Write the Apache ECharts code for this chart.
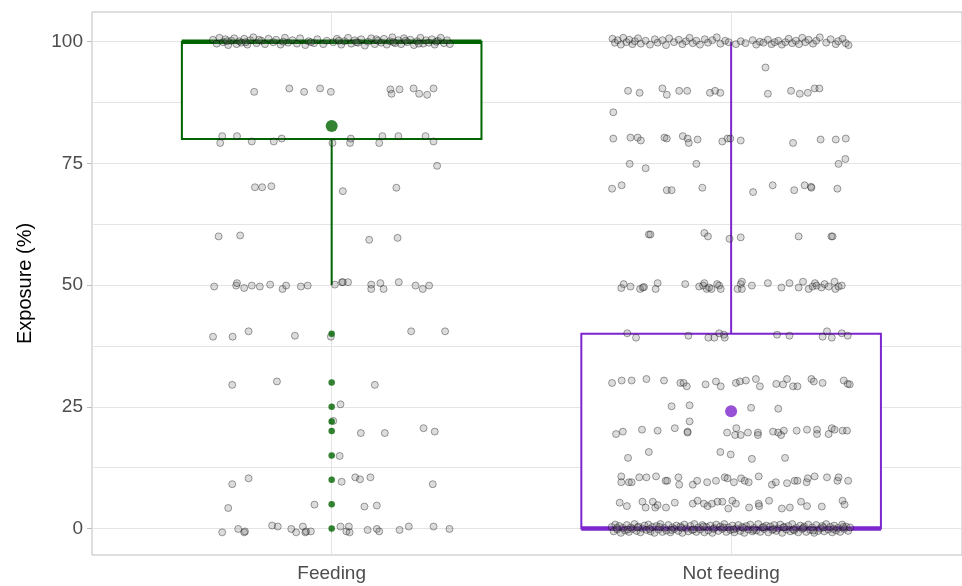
<!DOCTYPE html>
<html>
<head>
<meta charset="utf-8">
<script src="https://cdn.jsdelivr.net/npm/echarts@6/dist/echarts.min.js"></script>
<style>html,body{margin:0;padding:0;background:#fff}#chart{width:962px;height:586px}</style>
</head>
<body>
<div id="chart"></div>
<script>
// ---- data ----
const categories = ['Feeding', 'Not feeding'];
const yTicks = [0, 25, 50, 75, 100];
const yMinorTicks = [12.5, 37.5, 62.5, 87.5];
// [whisker low, Q1, median, Q3, whisker high]
const feedingBox = [50, 80, 100, 100, 100];
const notFeedingBox = [0, 0, 0, 40, 100];
const means = [82.7, 24.1];
const feedingOutliers = [40, 30, 25, 22, 20, 15, 10, 5, 0];

// jittered observations: [horizontal jitter (category units), value]
const feedingJitter = [
 [-0.297,100.4],[-0.288,99.6],[-0.281,100.8],[-0.272,99.9],[-0.266,100.5],[-0.259,99.3],[-0.251,100.2],[-0.244,100.7],[-0.238,99.5],[-0.231,100.1],[-0.226,99.8],[-0.219,100.6],[-0.211,99.4],[-0.204,100.3],[-0.196,100.9],[-0.188,99.7],[-0.176,100.2],[-0.167,99.5],[-0.158,100.6],[-0.146,99.9],[-0.139,100.4],[-0.128,99.4],[-0.117,100.8],[-0.109,99.8],[-0.098,100.3],[-0.087,99.6],[-0.079,100.7],[-0.066,99.3],[-0.058,100.1],[-0.044,99.7],[-0.036,100.5],[-0.021,99.5],[-0.012,100.2],[0.004,99.9],[0.013,100.6],[0.024,99.4],[0.032,100.1],[0.041,100.8],[0.049,99.6],[0.058,100.3],[0.066,99.8],[0.074,100.5],[0.083,99.2],[0.091,100.0],[0.099,100.7],[0.108,99.5],[0.116,100.2],[0.124,99.8],[0.131,100.6],[0.138,99.4],[0.146,100.1],[0.152,100.9],[0.159,99.7],[0.167,100.3],[0.174,99.5],[0.181,100.7],[0.189,99.9],[0.197,100.4],[0.206,99.3],[0.214,100.1],[0.222,100.8],[0.229,99.6],[0.236,100.3],[0.243,99.8],[0.251,100.5],[0.258,99.4],[0.266,100.2],[0.273,100.8],[0.281,99.7],[0.289,100.3],[0.296,99.5],
 [-0.262,100.1],[-0.215,99.9],[-0.182,100.4],[-0.121,100.0],[-0.052,99.9],[0.018,100.2],[0.062,99.9],[0.112,100.5],[0.155,99.9],[0.185,100.2],[0.218,99.6],[0.262,100.0],
 [-0.194,89.7],[-0.106,90.4],[-0.069,89.7],[-0.029,90.4],[-0.002,89.7],[0.147,90.2],[0.150,89.3],[0.170,90.2],[0.205,90.4],[0.219,89.3],[0.239,89.1],[0.255,90.4],
 [-0.279,79.2],[-0.274,80.6],[-0.237,80.6],[-0.200,79.5],[-0.145,79.5],[-0.125,80.1],[0.002,79.2],[0.046,79.2],[0.048,80.1],[0.119,79.2],[0.127,80.6],[0.167,80.6],[0.235,80.6],[0.255,79.5],
 [0.264,74.5],
 [-0.192,70.1],[-0.174,70.1],[-0.151,70.3],[0.028,69.3],[0.162,70.0],
 [-0.283,60.0],[-0.229,60.2],[0.094,59.3],[0.165,59.7],
 [-0.294,49.7],[-0.239,49.9],[-0.237,50.4],[-0.219,49.4],[-0.200,49.9],[-0.180,49.7],[-0.154,50.1],[-0.123,49.2],[-0.114,49.9],[-0.077,49.7],[-0.060,49.9],[0.008,50.1],[0.026,50.6],[0.028,50.6],[0.041,50.6],[0.099,50.1],[0.099,49.2],[0.122,50.4],[0.130,49.2],[0.168,50.6],[0.210,49.9],[0.228,49.2],[0.244,49.9],
 [-0.297,39.4],[-0.248,39.4],[-0.208,40.5],[-0.092,39.6],[-0.002,39.4],[0.199,40.5],[0.284,40.5],
 [-0.249,29.5],[-0.137,30.2],[0.108,29.5],
 [0.022,25.5],[0.004,22.1],
 [0.073,19.6],[0.133,19.6],[0.230,20.6],[0.258,19.9],
 [0.020,14.9],
 [-0.249,9.1],[-0.208,10.3],[0.025,9.6],[0.059,10.5],[0.071,10.1],[0.097,10.5],[0.253,9.1],
 [-0.259,4.2],[-0.043,4.9],[0.082,4.5],[0.113,4.7],
 [-0.274,-0.8],[-0.234,-0.1],[-0.219,-0.8],[-0.217,-0.6],[-0.149,0.6],[-0.135,0.4],[-0.101,-0.1],[-0.089,-0.8],[-0.072,0.4],[-0.066,-0.8],[-0.064,-0.6],[-0.052,-0.6],[0.022,0.4],[0.037,-0.6],[0.043,0.4],[0.045,-0.8],[0.090,-0.3],[0.113,-0.1],[0.119,-0.6],[0.170,-0.3],[0.193,0.4],[0.255,0.4],[0.295,-0.1]
];

const notFeedingJitter = [
 [-0.297,100.6],[-0.291,99.8],[-0.284,100.3],[-0.276,99.4],[-0.270,100.8],[-0.262,99.9],[-0.255,100.4],[-0.247,99.5],[-0.241,100.1],[-0.233,100.7],[-0.226,99.6],[-0.214,100.2],[-0.203,99.4],[-0.191,100.5],[-0.184,99.8],[-0.172,100.3],[-0.163,99.3],[-0.155,100.7],[-0.143,99.9],[-0.131,100.4],[-0.122,99.5],[-0.113,100.1],[-0.104,100.8],[-0.096,99.7],[-0.087,100.2],[-0.078,99.4],[-0.066,100.5],[-0.058,99.8],[-0.047,100.3],[-0.036,100.9],[-0.027,99.6],[-0.015,100.2],[-0.006,99.9],[0.012,99.5],[0.024,100.1],[0.036,99.7],[0.054,100.3],[0.063,99.4],[0.072,100.0],[0.081,99.8],[0.092,100.4],[0.101,99.5],[0.109,99.9],[0.118,100.2],[0.127,99.4],[0.136,99.9],[0.144,100.6],[0.153,99.7],[0.162,100.2],[0.170,99.5],[0.178,100.8],[0.186,99.9],[0.194,100.4],[0.205,99.6],[0.213,100.2],[0.222,100.9],[0.238,99.8],[0.249,100.5],[0.262,99.5],[0.268,100.1],[0.279,100.6],[0.287,99.7],[0.294,99.3],
 [0.086,94.7],[-0.295,85.5],
 [-0.258,89.9],[-0.229,89.5],[-0.172,90.4],[-0.161,89.1],[-0.130,89.9],[-0.110,89.9],[-0.053,89.5],[-0.040,89.9],[-0.027,89.5],[0.092,89.3],[0.150,89.9],[0.172,89.3],[0.192,89.5],[0.209,90.4],[0.221,90.4],
 [-0.295,80.1],[-0.252,80.3],[-0.234,80.3],[-0.226,79.7],[-0.167,80.3],[-0.161,80.1],[-0.121,80.6],[-0.109,80.1],[-0.106,79.2],[-0.084,79.9],[-0.022,79.5],[-0.009,80.1],[-0.002,80.1],[0.024,79.7],[0.155,79.2],[0.224,79.9],[0.262,79.9],[0.287,80.1],
 [0.286,75.9],[-0.254,74.9],[-0.214,74.0],[-0.087,74.9],[0.269,74.9],
 [-0.298,69.8],[-0.274,70.5],[-0.161,69.5],[-0.149,69.5],[-0.072,70.0],[0.055,69.1],[0.104,70.5],[0.158,69.5],[0.184,70.5],[0.200,70.2],[0.201,70.0],[0.266,69.8],
 [-0.206,60.4],[-0.202,60.4],[-0.067,60.7],[-0.058,60.0],[-0.004,59.5],[0.024,59.8],[0.169,60.0],[0.251,60.0],[0.254,60.0],
 [-0.275,49.4],[-0.269,50.2],[-0.252,49.7],[-0.228,49.2],[-0.221,49.5],[-0.218,49.6],[-0.189,49.2],[-0.184,50.4],[-0.115,50.2],[-0.080,49.7],[-0.070,49.9],[-0.067,50.4],[-0.061,49.2],[-0.055,49.5],[-0.049,49.2],[-0.035,50.2],[-0.030,49.9],[-0.026,49.2],[0.016,49.2],[0.024,50.2],[0.027,50.7],[0.027,49.2],[0.052,49.9],[0.092,50.4],[0.126,49.5],[0.146,50.4],[0.169,49.5],[0.180,50.7],[0.194,49.2],[0.204,49.7],[0.210,50.4],[0.214,49.9],[0.226,49.5],[0.234,50.2],[0.244,49.7],[0.259,50.7],[0.261,49.2],[0.269,49.7],[0.277,49.9],
 [-0.260,40.1],[-0.238,39.2],[-0.107,39.6],[-0.057,39.2],[-0.042,39.2],[-0.030,40.1],[-0.018,39.8],[-0.016,39.2],[0.115,39.8],[0.146,39.6],[0.229,39.4],[0.240,40.5],[0.252,39.2],[0.277,40.1],[0.292,39.6],
 [-0.298,29.9],[-0.274,30.4],[-0.249,30.4],[-0.212,30.7],[-0.168,30.4],[-0.127,29.9],[-0.119,29.9],[-0.111,29.2],[-0.064,29.6],[-0.038,30.2],[-0.026,29.2],[0.012,29.9],[0.022,30.2],[0.037,30.4],[0.062,30.7],[0.072,29.2],[0.113,29.7],[0.130,29.6],[0.140,30.7],[0.155,29.2],[0.166,29.2],[0.201,30.7],[0.207,30.2],[0.229,29.9],[0.282,30.4],[0.292,29.7],[0.297,29.6],
 [-0.149,25.1],[-0.104,25.3],[0.050,24.8],[0.118,24.6],[-0.104,22.0],
 [-0.288,19.4],[-0.271,19.9],[-0.223,20.3],[-0.184,20.1],[-0.141,20.6],[-0.109,19.9],[-0.109,19.7],[-0.010,19.7],[0.010,19.2],[0.013,20.6],[0.024,19.2],[0.042,19.7],[0.067,19.7],[0.067,19.2],[0.105,19.9],[0.118,19.7],[0.125,19.2],[0.132,20.1],[0.164,20.1],[0.190,20.3],[0.215,20.3],[0.215,19.4],[0.244,19.4],[0.252,20.6],[0.259,20.3],[0.279,20.1],[0.290,20.1],
 [-0.258,14.5],[-0.206,15.7],[-0.027,15.7],[-0.001,15.2],[0.052,14.3],[0.135,14.5],
 [-0.275,10.7],[-0.275,9.5],[-0.256,9.5],[-0.249,9.5],[-0.230,10.5],[-0.212,10.5],[-0.188,10.7],[-0.164,9.8],[-0.160,9.8],[-0.132,10.5],[-0.130,9.0],[-0.096,9.0],[-0.085,9.8],[-0.060,9.5],[-0.038,9.8],[-0.016,10.5],[-0.009,10.3],[0.007,9.5],[0.025,10.3],[0.034,9.8],[0.044,9.5],[0.069,10.7],[0.102,9.0],[0.112,9.5],[0.140,9.3],[0.159,9.8],[0.166,9.8],[0.189,9.5],[0.192,10.3],[0.209,10.7],[0.240,10.5],[0.266,9.8],[0.269,10.5],[0.293,9.8],
 [-0.279,5.3],[-0.261,4.6],[-0.222,5.5],[-0.214,4.3],[-0.196,5.5],[-0.190,4.3],[-0.184,4.8],[-0.163,4.3],[-0.141,5.3],[-0.096,5.1],[-0.084,5.7],[-0.068,5.1],[-0.059,4.6],[-0.048,5.1],[-0.034,5.5],[-0.022,5.5],[-0.007,4.1],[0.003,5.7],[0.012,5.1],[0.045,4.3],[0.069,5.1],[0.070,4.6],[0.095,5.7],[0.127,4.1],[0.147,4.3],[0.175,5.5],[0.190,4.6],[0.227,4.5],[0.279,5.7],[0.284,4.9],
 [-0.299,0.3],[-0.294,-0.6],[-0.290,0.8],[-0.285,-0.2],[-0.280,0.5],[-0.276,-0.9],[-0.271,0.1],[-0.266,-0.4],[-0.261,0.7],[-0.256,-0.7],[-0.251,0.2],[-0.247,-0.1],[-0.242,0.9],[-0.237,-0.5],[-0.232,0.4],[-0.227,-0.8],[-0.222,0.0],[-0.217,0.6],[-0.212,-0.3],[-0.207,0.8],[-0.202,-0.6],[-0.197,0.3],[-0.192,-0.9],[-0.187,0.5],[-0.182,-0.2],[-0.177,0.9],[-0.172,-0.7],[-0.167,0.1],[-0.162,-0.4],[-0.157,0.7],[-0.152,-0.8],[-0.147,0.2],[-0.142,-0.1],[-0.137,0.6],[-0.132,-0.5],[-0.127,0.4],[-0.122,-0.9],[-0.117,0.8],[-0.112,0.0],[-0.107,-0.6],[-0.102,0.5],[-0.097,-0.3],[-0.092,0.9],[-0.087,-0.7],[-0.082,0.2],[-0.077,-0.2],[-0.072,0.7],[-0.067,-0.8],[-0.062,0.3],[-0.057,-0.4],[-0.052,0.6],[-0.047,-0.9],[-0.042,0.1],[-0.037,0.8],[-0.032,-0.5],[-0.027,0.4],[-0.022,-0.1],[-0.017,0.9],[-0.012,-0.7],[-0.007,0.2],[-0.002,-0.3],[0.003,0.6],[0.008,-0.8],[0.013,0.0],[0.018,0.7],[0.023,-0.5],[0.028,0.3],[0.033,-0.9],[0.038,0.5],[0.043,-0.2],[0.048,0.8],[0.053,-0.6],[0.058,0.1],[0.063,-0.4],[0.068,0.9],[0.073,-0.7],[0.078,0.2],[0.083,-0.1],[0.088,0.6],[0.093,-0.8],[0.098,0.4],[0.103,-0.3],[0.108,0.7],[0.113,-0.5],[0.118,0.0],[0.123,0.8],[0.128,-0.9],[0.133,0.3],[0.138,-0.2],[0.143,0.5],[0.148,-0.6],[0.153,0.9],[0.158,-0.4],[0.163,0.1],[0.168,-0.8],[0.173,0.6],[0.178,-0.1],[0.183,0.4],[0.188,-0.7],[0.193,0.8],[0.198,-0.3],[0.203,0.2],[0.208,-0.9],[0.213,0.7],[0.218,-0.5],[0.223,0.0],[0.228,0.5],[0.233,-0.6],[0.238,0.9],[0.243,-0.2],[0.248,0.3],[0.253,-0.8],[0.258,0.6],[0.263,-0.4],[0.268,0.1],[0.273,-0.7],[0.278,0.8],[0.283,-0.1],[0.288,0.4],[0.293,-0.5],[0.298,0.2],
 [-0.286,0.1],[-0.259,-0.2],[-0.234,0.2],[-0.204,-0.1],[-0.179,0.3],[-0.149,-0.3],[-0.124,0.1],[-0.094,-0.2],[-0.069,0.4],[-0.044,-0.1],[-0.019,0.2],[0.006,-0.2],[0.031,0.1],[0.056,-0.3],[0.081,0.3],[0.106,-0.1],[0.131,0.2],[0.156,-0.2],[0.181,0.1],[0.206,-0.4],[0.231,0.2],[0.256,-0.1],[0.281,0.3]
];

// ---- styling ----
const boxColors = ['#006400', '#7D26CD'];
const FONT = 'Liberation Sans, Arial, Helvetica, sans-serif';
const BOX_WIDTH = 0.75;

const boxData = [[1].concat(feedingBox), [2].concat(notFeedingBox)];
const jitterData = feedingJitter.map(p => [1 + p[0], p[1]])
  .concat(notFeedingJitter.map(p => [2 + p[0], p[1]]));
const outlierData = feedingOutliers.map(v => [1, v]);
const meanData = means.map((m, i) => ({ value: [i + 1, m], itemStyle: { color: boxColors[i] } }));

function renderBox(params, api) {
  const x = api.value(0);
  const lo = api.value(1), q1 = api.value(2), med = api.value(3), q3 = api.value(4), hi = api.value(5);
  const color = boxColors[params.dataIndex];
  const half = api.size([BOX_WIDTH, 0])[0] / 2;
  const pLo = api.coord([x, lo]), pQ1 = api.coord([x, q1]), pMed = api.coord([x, med]);
  const pQ3 = api.coord([x, q3]), pHi = api.coord([x, hi]);
  const children = [];
  if (hi > q3) children.push({ type: 'line', shape: { x1: pHi[0], y1: pHi[1], x2: pQ3[0], y2: pQ3[1] }, style: { stroke: color, lineWidth: 2 } });
  if (lo < q1) children.push({ type: 'line', shape: { x1: pLo[0], y1: pLo[1], x2: pQ1[0], y2: pQ1[1] }, style: { stroke: color, lineWidth: 2 } });
  children.push({ type: 'rect', shape: { x: pQ1[0] - half, y: pQ3[1], width: 2 * half, height: pQ1[1] - pQ3[1] }, style: { fill: '#ffffff', stroke: color, lineWidth: 2 } });
  children.push({ type: 'line', shape: { x1: pMed[0] - half, y1: pMed[1], x2: pMed[0] + half, y2: pMed[1] }, style: { stroke: color, lineWidth: 4.5 } });
  return { type: 'group', children };
}

// panel: 0.4..(visible right edge) at ~400 px per category unit; the rest is cropped off
const yMin = -5.45, yMax = 106.1;
const xMin = 0.4, xMax = 2.578;
const chart = echarts.init(document.getElementById('chart'), null, { renderer: 'canvas' });
chart.setOption({
  animation: false,
  backgroundColor: '#ffffff',
  grid: { left: 92, top: 12, right: 0, bottom: 31, show: true, borderColor: '#BEBEBE', borderWidth: 1, backgroundColor: 'transparent', containLabel: false },
  xAxis: {
    type: 'value', min: xMin, max: xMax,
    axisLine: { show: false },
    axisTick: { show: true, customValues: [1, 2], length: 5, lineStyle: { color: '#BEBEBE' } },
    axisLabel: { show: true, customValues: [1, 2], formatter: v => categories[Math.round(v) - 1] || '', color: '#4D4D4D', fontSize: 19, fontFamily: FONT, margin: 9 },
    splitLine: { show: true, lineStyle: { color: '#E4E4E4', width: 1 } }
  },
  yAxis: [{
    type: 'value', min: yMin, max: yMax,
    name: 'Exposure (%)', nameLocation: 'middle', nameGap: 57,
    nameTextStyle: { fontSize: 20, color: '#000000', fontFamily: FONT },
    axisLine: { show: false },
    axisTick: { show: true, customValues: yTicks, length: 5, lineStyle: { color: '#BEBEBE' } },
    axisLabel: { show: true, customValues: yTicks, color: '#4D4D4D', fontSize: 19, fontFamily: FONT, margin: 9 },
    splitLine: { show: true, lineStyle: { color: '#E4E4E4', width: 1 } }
  }, {
    type: 'value', min: yMin, max: yMax, position: 'left',
    axisLine: { show: false },
    axisTick: { show: false, customValues: yMinorTicks },
    axisLabel: { show: false, customValues: yMinorTicks },
    splitLine: { show: true, lineStyle: { color: '#E4E4E4', width: 1 } }
  }],
  series: [
    {
      type: 'custom', name: 'box', renderItem: renderBox, data: boxData,
      encode: { x: 0, y: [1, 2, 3, 4, 5] }, z: 2, silent: true
    },
    {
      type: 'scatter', name: 'obs', data: jitterData, symbolSize: 7, z: 3, silent: true,
      itemStyle: { color: 'rgba(110,110,110,0.30)', borderColor: 'rgba(0,0,0,0.45)', borderWidth: 1 }
    },
    {
      type: 'scatter', name: 'outliers', data: outlierData, symbolSize: 6.5, z: 4, silent: true,
      itemStyle: { color: boxColors[0] }
    },
    {
      type: 'scatter', name: 'mean', data: meanData, symbolSize: 12, z: 5, silent: true
    }
  ]
});
</script>
</body>
</html>
